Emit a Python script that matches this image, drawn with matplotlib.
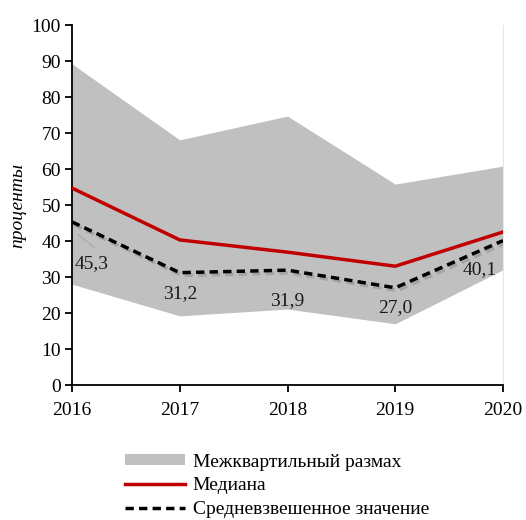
import matplotlib
matplotlib.use("Agg")
import matplotlib.pyplot as plt
import matplotlib.patheffects as pe
from matplotlib.patches import Patch
from matplotlib.lines import Line2D

plt.rcParams['font.family'] = ['Liberation Serif', 'DejaVu Serif']

years = [2016, 2017, 2018, 2019, 2020]
q_low = [28.0, 19.2, 21.1, 17.0, 32.0]
q_high = [89.2, 68.1, 74.7, 55.8, 60.8]
median = [54.7, 40.3, 36.9, 33.0, 42.5]
wavg = [45.3, 31.2, 31.9, 27.0, 40.1]

# label offsets in pixels (dx, dy) relative to each weighted-average point
lbl_off = [(20, -42), (0, -21), (0, -30), (0, -20), (-23, -29)]

fig = plt.figure(figsize=(5.26, 5.20), dpi=100)
ax = fig.add_axes([72 / 526, 135 / 520, 431 / 526, 360 / 520])

ax.fill_between(years, q_low, q_high, color='#c0c0c0', lw=0, zorder=1)
ax.plot(years, median, color='#c00000', lw=2.5, zorder=3)
ax.plot(years, wavg, color='black', lw=2.5, dashes=(2.4, 1.5), zorder=4,
        path_effects=[pe.SimpleLineShadow(offset=(1.5, -2), shadow_color='#707070', alpha=0.35),
                      pe.Normal()])

px = 72 / 100
for i, (x, v) in enumerate(zip(years, wavg)):
    dx, dy = lbl_off[i]
    ax.annotate(f"{v:.1f}".replace('.', ','), xy=(x, v),
                xytext=(dx * px, dy * px), textcoords='offset points',
                ha='center', va='center', fontsize=14, color='#1a1a1a', zorder=5)
# leader line for the first label
ax.plot([years[0] + 0.055, years[0] + 0.21], [wavg[0] - 3.5, wavg[0] - 7.2],
        color='#a8a8a8', lw=0.8, zorder=2)

ax.set_xlim(2016, 2020)
ax.set_ylim(0, 100)
ax.set_xticks(years)
ax.set_yticks(range(0, 101, 10))
ax.tick_params(axis='both', labelsize=14, length=5, width=1.3, direction='out', colors='black')
ax.tick_params(axis='x', pad=7)
ax.tick_params(axis='y', pad=3)
ax.spines['top'].set_visible(False)
ax.spines['right'].set_color('#e6e6e6')
ax.spines['right'].set_linewidth(0.8)
ax.spines['left'].set_linewidth(1.3)
ax.spines['bottom'].set_linewidth(1.3)
ax.set_ylabel('проценты', fontsize=14, style='italic', labelpad=4)

handles = [Patch(facecolor='#c0c0c0', edgecolor='none'),
           Line2D([], [], color='#c00000', lw=2.5),
           Line2D([], [], color='black', lw=2.5, dashes=(2.4, 1.5))]
names = ['Межквартильный размах', 'Медиана', 'Средневзвешенное значение']
fig.legend(handles, names, loc='upper left', bbox_to_anchor=(115 / 526, 1 - 444 / 520),
           frameon=False, fontsize=14, handlelength=3.1, handleheight=0.5,
           handletextpad=0.4, labelspacing=0.34, borderpad=0)

fig.savefig('out.png', dpi=100)
